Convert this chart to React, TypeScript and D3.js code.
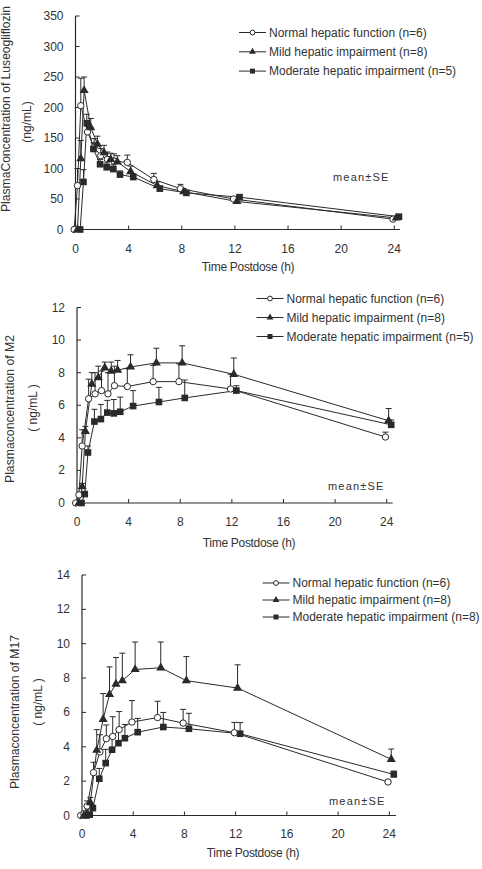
import React, { useRef, useEffect } from 'react';
import * as d3 from 'd3';

// sampling times (h) and axis ticks
const times = [0, 0.25, 0.5, 1, 1.5, 2, 2.5, 3, 4, 6, 8, 12, 24];
const xTicks = [0, 4, 8, 12, 16, 20, 24];
// small horizontal shift per group so error bars don't sit on top of each other
const timeShift = [-0.1, 0.15, 0.35];

// luseogliflozin (ng/mL)
const lusNormal = [0, 72, 203, 160, 135, 121, 115, 112, 110, 82, 67, 50, 17];
const lusNormalSE = [0, 28, 45, 18, 14, 12, 12, 12, 12, 10, 7, 4, 3];
const lusMild = [0, 116, 228, 167, 140, 126, 115, 111, 95, 72, 62, 46, 19];
const lusMildSE = [0, 30, 22, 15, 13, 12, 10, 10, 9, 6, 5, 4, 2];
const lusModerate = [0, 78, 174, 132, 107, 102, 99, 90, 86, 67, 60, 53, 21];
const lusModerateSE = [0, 20, 15, 10, 8, 7, 7, 6, 5, 4, 4, 4, 3];
const lusYTicks = [0, 50, 100, 150, 200, 250, 300, 350];

// M2 (ng/mL)
const m2Normal = [0, 0.5, 3.5, 6.4, 6.7, 6.9, 6.7, 7.2, 7.15, 7.45, 7.45, 7.0, 4.05];
const m2NormalSE = [0, 0.1, 1.0, 1.2, 1.3, 1.2, 1.3, 1.2, 1.1, 1.0, 1.1, 0.9, 0.3];
const m2Mild = [0, 1.0, 4.4, 7.3, 7.7, 8.3, 8.1, 8.15, 8.35, 8.6, 8.6, 7.9, 5.05];
const m2MildSE = [0, 0.2, 0.3, 0.7, 0.7, 0.35, 0.55, 0.6, 0.75, 0.9, 1.05, 1.0, 0.75];
const m2Moderate = [0, 0.55, 3.1, 5.0, 5.15, 5.55, 5.5, 5.6, 5.95, 6.2, 6.45, 6.9, 4.8];
const m2ModerateSE = [0, 0.1, 0.4, 0.75, 0.9, 0.75, 0.85, 0.9, 0.95, 0.9, 1.1, 0.3, 0.3];
const m2YTicks = [0, 2, 4, 6, 8, 10, 12];

// M17 (ng/mL)
const m17Normal = [0, 0.1, 0.55, 2.5, 3.7, 4.47, 4.6, 5.0, 5.44, 5.7, 5.38, 4.82, 1.95];
const m17NormalSE = [0, 0.05, 0.3, 0.6, 1.0, 0.8, 1.15, 1.05, 1.25, 0.95, 0.8, 0.6, 0.1];
const m17Mild = [0, 0.1, 0.75, 3.8, 5.6, 7.05, 7.65, 7.85, 8.5, 8.6, 7.85, 7.42, 3.27];
const m17MildSE = [0, 0.05, 0.3, 1.2, 1.5, 1.6, 1.55, 1.6, 1.6, 1.5, 1.4, 1.35, 0.6];
const m17Moderate = [0, 0.05, 0.43, 2.14, 3.05, 3.83, 4.21, 4.5, 4.85, 5.15, 5.05, 4.76, 2.39];
const m17ModerateSE = [0, 0.05, 0.1, 0.6, 0.8, 0.8, 0.8, 0.8, 0.8, 0.85, 0.9, 0.65, 0.2];
const m17YTicks = [0, 2, 4, 6, 8, 10, 12, 14];

const lusLegend = ['Normal hepatic function (n=6)', 'Mild hepatic impairment (n=8)', 'Moderate hepatic impairment (n=5)'];
const m2Legend = ['Normal hepatic function (n=6)', 'Mild hepatic impairment (n=8)', 'Moderate hepatic impairment (n=5)'];
const m17Legend = ['Normal hepatic function (n=6)', 'Mild hepatic impairment (n=8)', 'Moderate hepatic impairment (n=8)'];

const FONT = '"Liberation Sans", Arial, sans-serif';
const INK = '#2a2a2a';

const panels = [
  {
    series: [[lusNormal, lusNormalSE], [lusMild, lusMildSE], [lusModerate, lusModerateSE]],
    legend: lusLegend, yTicks: lusYTicks,
    x0: 75.5, x24: 394.3, xEnd: 400, y0: 229.5, yTop: 16,
    legendX: 239, legendY: 32.5, legendGap: 19.3,
    meanX: 333, meanY: 177,
    xTitleX: 248, xTitleY: 271, tickY: 253,
    yTitle: 'PlasmaConcentration of Luseogliflozin', yTitleX: 6, yTitleY: 109, yTitleLen: 206,
    unit: '(ng/mL)', unitX: 27, unitY: 122,
  },
  {
    series: [[m2Normal, m2NormalSE], [m2Mild, m2MildSE], [m2Moderate, m2ModerateSE]],
    legend: m2Legend, yTicks: m2YTicks,
    x0: 77, x24: 386.7, xEnd: 392.7, y0: 503, yTop: 307.5,
    legendX: 256.5, legendY: 298.5, legendGap: 19,
    meanX: 328, meanY: 486,
    xTitleX: 249, xTitleY: 547, tickY: 526,
    yTitle: 'Plasmaconcentration of M2', yTitleX: 10, yTitleY: 409, yTitleLen: 148,
    unit: '( ng/mL )', unitX: 33, unitY: 408,
  },
  {
    series: [[m17Normal, m17NormalSE], [m17Mild, m17MildSE], [m17Moderate, m17ModerateSE]],
    legend: m17Legend, yTicks: m17YTicks,
    x0: 82, x24: 389.3, xEnd: 396, y0: 815.5, yTop: 575,
    legendX: 262.5, legendY: 583, legendGap: 17,
    meanX: 329, meanY: 801,
    xTitleX: 253, xTitleY: 857, tickY: 838,
    yTitle: 'Plasmaconcentration of M17', yTitleX: 15, yTitleY: 712, yTitleLen: 154,
    unit: '( ng/mL )', unitX: 38, unitY: 702,
  },
];

// open circle, filled triangle, filled square
function drawMarker(g, kind, cx, cy, scale = 1) {
  if (kind === 0) {
    g.append('circle').attr('cx', cx).attr('cy', cy).attr('r', 3.2 * scale)
      .attr('fill', 'white').attr('stroke', INK).attr('stroke-width', 1);
  } else {
    const sym = kind === 1 ? d3.symbolTriangle : d3.symbolSquare;
    const size = kind === 1 ? 36 * scale * scale : 44 * scale * scale;
    g.append('path').attr('d', d3.symbol(sym, size)()).attr('transform', `translate(${cx},${cy})`)
      .attr('fill', INK);
  }
}

function drawPanel(svg, p) {
  const g = svg.append('g');
  const yMax = p.yTicks[p.yTicks.length - 1];
  const x = d3.scaleLinear().domain([0, 24]).range([p.x0, p.x24]);
  const y = d3.scaleLinear().domain([0, yMax]).range([p.y0, p.yTop]);

  // axes with inward ticks
  g.append('line').attr('x1', p.x0).attr('x2', p.x0).attr('y1', y(yMax)).attr('y2', p.y0)
    .attr('stroke', INK).attr('stroke-width', 1.2);
  g.append('line').attr('x1', p.x0).attr('x2', p.xEnd).attr('y1', p.y0).attr('y2', p.y0)
    .attr('stroke', INK).attr('stroke-width', 1.2);

  g.selectAll('.yt').data(p.yTicks).enter().append('line')
    .attr('x1', p.x0).attr('x2', p.x0 + 4).attr('y1', d => y(d)).attr('y2', d => y(d))
    .attr('stroke', INK);
  g.selectAll('.yl').data(p.yTicks).enter().append('text')
    .attr('x', p.x0 - 12).attr('y', d => y(d) + 4).attr('text-anchor', 'end')
    .attr('font-size', 12).attr('font-family', FONT).attr('fill', '#333')
    .text(d => d);

  g.selectAll('.xt').data(xTicks).enter().append('line')
    .attr('x1', d => x(d)).attr('x2', d => x(d)).attr('y1', p.y0).attr('y2', p.y0 - 4)
    .attr('stroke', INK);
  g.selectAll('.xl').data(xTicks).enter().append('text')
    .attr('x', d => x(d)).attr('y', p.tickY).attr('text-anchor', 'middle')
    .attr('font-size', 12).attr('font-family', FONT).attr('fill', '#333')
    .text(d => d);

  g.append('text').attr('x', p.xTitleX).attr('y', p.xTitleY).attr('text-anchor', 'middle')
    .attr('font-size', 12).attr('font-family', FONT).attr('fill', '#333').attr('letter-spacing', -0.3)
    .text('Time Postdose (h)');

  g.append('text').attr('transform', `translate(${p.yTitleX},${p.yTitleY}) rotate(-90)`)
    .attr('text-anchor', 'middle').attr('dominant-baseline', 'central')
    .attr('font-size', 12).attr('font-family', FONT).attr('fill', '#333')
    .attr('textLength', p.yTitleLen).attr('lengthAdjust', 'spacingAndGlyphs')
    .text(p.yTitle);
  g.append('text').attr('transform', `translate(${p.unitX},${p.unitY}) rotate(-90)`)
    .attr('text-anchor', 'middle').attr('dominant-baseline', 'central')
    .attr('font-size', 12).attr('font-family', FONT).attr('fill', '#333')
    .text(p.unit);

  const line = d3.line().x(d => x(d.t)).y(d => y(d.v));

  p.series.forEach(([vals, se], i) => {
    const pts = times.map((t, j) => ({ t: t + timeShift[i], v: vals[j], se: se[j] }));
    g.append('path').attr('d', line(pts)).attr('fill', 'none')
      .attr('stroke', INK).attr('stroke-width', 1);
    // upper error bars only
    pts.filter(d => d.se > 0).forEach(d => {
      g.append('line').attr('x1', x(d.t)).attr('x2', x(d.t)).attr('y1', y(d.v)).attr('y2', y(d.v + d.se))
        .attr('stroke', INK).attr('stroke-width', 1);
      g.append('line').attr('x1', x(d.t) - 3).attr('x2', x(d.t) + 3)
        .attr('y1', y(d.v + d.se)).attr('y2', y(d.v + d.se))
        .attr('stroke', INK).attr('stroke-width', 1);
    });
  });
  p.series.forEach(([vals], i) => {
    times.forEach((t, j) => drawMarker(g, i, x(t + timeShift[i]), y(vals[j])));
  });

  // legend
  p.legend.forEach((label, i) => {
    const ly = p.legendY + i * p.legendGap;
    g.append('line').attr('x1', p.legendX).attr('x2', p.legendX + 27).attr('y1', ly).attr('y2', ly)
      .attr('stroke', INK).attr('stroke-width', 1);
    drawMarker(g, i, p.legendX + 13.5, ly, 0.75);
    g.append('text').attr('x', p.legendX + 30).attr('y', ly).attr('dominant-baseline', 'central')
      .attr('font-size', 12).attr('font-family', FONT).attr('fill', '#333')
      .text(label);
  });

  g.append('text').attr('x', p.meanX).attr('y', p.meanY).attr('dominant-baseline', 'central')
    .attr('font-size', 11).attr('font-family', FONT).attr('fill', '#333').attr('letter-spacing', 1.2)
    .text('mean±SE');
}

function App() {
  const ref = useRef(null);

  useEffect(() => {
    const svg = d3.select(ref.current);
    svg.selectAll('*').remove();
    panels.forEach(p => drawPanel(svg, p));
  }, []);

  return (
    <div style={{ position: 'absolute', left: 0, top: 0, width: 482, height: 869, background: 'white' }}>
      <svg ref={ref} width={482} height={869} />
    </div>
  );
}

export default App;
